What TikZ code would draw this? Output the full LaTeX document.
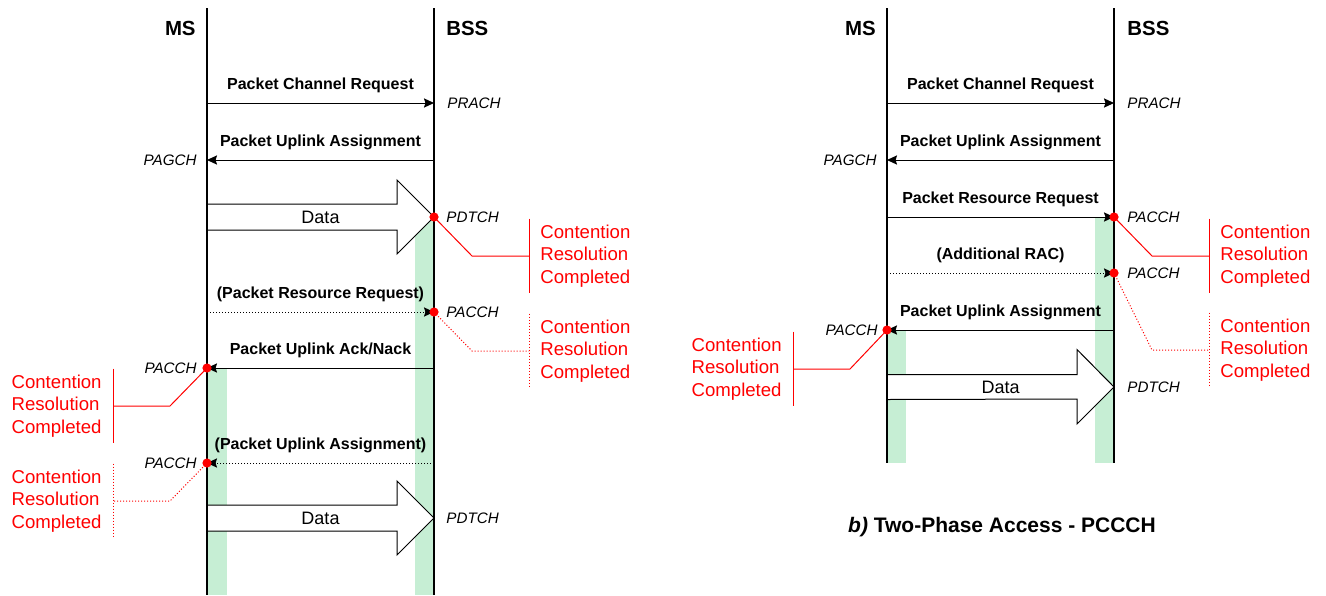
\documentclass[tikz,border=0pt]{standalone}
\usepackage{fontspec}
\setmainfont{Liberation Sans}
\usetikzlibrary{arrows.meta, positioning, calc}
\definecolor{crred}{RGB}{255,0,0}
\definecolor{bandgreen}{RGB}{198,238,212}
\tikzset{
  lifeline/.style={line width=1pt},
  msg/.style={line width=0.5pt, -{Stealth[length=5pt, width=4.6pt, inset=0.7pt]}},
  msgopt/.style={msg, densely dotted},
  msglabel/.style={font=\bfseries\fontsize{8}{9.6}\selectfont, yshift=8.6pt},
  chan/.style={font=\itshape\fontsize{7.6}{9}\selectfont, inner sep=0pt},
  actor/.style={font=\bfseries\fontsize{10.2}{12}\selectfont, inner sep=0pt},
  dataarr/.style={draw, fill=white, line width=0.5pt},
  datalabel/.style={font=\fontsize{9}{10.8}\selectfont},
  band/.style={fill=bandgreen},
  reddot/.style={circle, fill=crred, inner sep=0pt, minimum size=4.6pt},
  crline/.style={draw=crred, line width=0.5pt},
  crlineopt/.style={crline, densely dotted},
  crnote/.style={text=crred, align=left, font=\fontsize{9.3}{11.25}\selectfont, inner xsep=5.5pt, inner ysep=0pt, minimum height=37pt, yshift=-0.5pt}
}

\begin{document}
\begin{tikzpicture}[x=0.5pt, y=-0.5pt]
    \useasboundingbox (0,0) rectangle (1326,595);

    % left chart
    \coordinate (lmT) at (207,8);  \coordinate (lmB) at (207,595);
    \coordinate (lbT) at (434,8);  \coordinate (lbB) at (434,595);
    \coordinate (lmH) at (207,28); \coordinate (lbH) at (434,28);
    \foreach \n/\y in {1/103,2/160,3/217,4/312,5/368,6/463,7/518}{
      \coordinate (lm\n) at (207,\y);
      \coordinate (lb\n) at (434,\y);
    }
    \fill[band] ($(lb3)+(-19,0)$) rectangle (lbB);
    \fill[band] (lm5) rectangle ($(lmB)+(20,0)$);

    \draw[dataarr] (lb3) -- ++(-37,37) -- ++(0,-24) -- ($(lm3)+(0,13)$) -- ($(lm3)+(0,-13)$) -- ++(190,0) -- ++(0,-24) -- cycle;
    \node[datalabel] (lData1) at ($(lm3)!0.5!(lb3)$) {Data};
    \draw[dataarr] (lb7) -- ++(-37,37) -- ++(0,-24) -- ($(lm7)+(0,13)$) -- ($(lm7)+(0,-13)$) -- ++(190,0) -- ++(0,-24) -- cycle;
    \node[datalabel] (lData2) at ($(lm7)!0.5!(lb7)$) {Data};

    \draw[lifeline] (lmT) -- (lmB);
    \draw[lifeline] (lbT) -- (lbB);
    \node[actor, left=5.5pt of lmH] (lMS) {MS};
    \node[actor, right=6pt of lbH] (lBSS) {BSS};

    \draw[msg] (lm1) -- node[msglabel] (lPCR) {Packet Channel Request} (lb1);
    \draw[msg] (lb2) -- node[msglabel] (lPUA) {Packet Uplink Assignment} (lm2);
    \draw[msgopt] (lm4) -- node[msglabel] (lPRR) {(Packet Resource Request)} (lb4);
    \draw[msg] (lb5) -- node[msglabel] (lACK) {Packet Uplink Ack/Nack} (lm5);
    \draw[msgopt] (lb6) -- node[msglabel] (lPUA2) {(Packet Uplink Assignment)} (lm6);

    \node[chan, right=6.5pt of lb1] (lPRACH) {PRACH};
    \node[chan, left=5pt of lm2] (lPAGCH) {PAGCH};
    \node[chan, right=6pt of lb3] (lPDTCH1) {PDTCH};
    \node[chan, right=6pt of lb4] (lPACCH1) {PACCH};
    \node[chan, left=5pt of lm5] (lPACCH2) {PACCH};
    \node[chan, left=5pt of lm6] (lPACCH3) {PACCH};
    \node[chan, right=6pt of lb7] (lPDTCH2) {PDTCH};

    \node[reddot] (lDot1) at (lb3) {};
    \node[reddot] (lDot2) at (lb4) {};
    \node[reddot] (lDot3) at (lm5) {};
    \node[reddot] (lDot4) at (lm6) {};

    \node[crnote, anchor=west] (lCR1) at ($(lb3)+(95,38)$) {Contention\\Resolution\\Completed};
    \draw[crline] (lDot1.center) -- ($(lCR1.west)+(-57,0)$) -- (lCR1.west);
    \draw[crline] (lCR1.north west) -- (lCR1.south west);
    \node[crnote, anchor=west] (lCR2) at ($(lb4)+(95,38)$) {Contention\\Resolution\\Completed};
    \draw[crlineopt] (lDot2.center) -- ($(lCR2.west)+(-57,0)$) -- (lCR2.west);
    \draw[crlineopt] (lCR2.north west) -- (lCR2.south west);
    \node[crnote, anchor=east] (lCR3) at ($(lm5)+(-94,37)$) {Contention\\Resolution\\Completed};
    \draw[crline] (lDot3.center) -- ($(lCR3.east)+(57,0)$) -- (lCR3.east);
    \draw[crline] (lCR3.north east) -- (lCR3.south east);
    \node[crnote, anchor=east] (lCR4) at ($(lm6)+(-94,37)$) {Contention\\Resolution\\Completed};
    \draw[crlineopt] (lDot4.center) -- ($(lCR4.east)+(57,0)$) -- (lCR4.east);
    \draw[crlineopt] (lCR4.north east) -- (lCR4.south east);

    % right chart
    \coordinate (rmT) at (887,8);  \coordinate (rmB) at (887,463);
    \coordinate (rbT) at (1114,8); \coordinate (rbB) at (1114,463);
    \coordinate (rmH) at (887,28); \coordinate (rbH) at (1114,28);
    \foreach \n/\y in {1/103,2/160,3/217,4/273,5/330,6/387}{
      \coordinate (rm\n) at (887,\y);
      \coordinate (rb\n) at (1114,\y);
    }
    \fill[band] ($(rb3)+(-19,0)$) rectangle (rbB);
    \fill[band] (rm5) rectangle ($(rmB)+(19,0)$);

    \draw[dataarr] (rb6) -- ++(-37,37) -- ++(0,-25) -- ($(rm6)+(0,12.5)$) -- ($(rm6)+(0,-12.5)$) -- ++(190,0) -- ++(0,-25) -- cycle;
    \node[datalabel] (rData) at ($(rm6)!0.5!(rb6)$) {Data};

    \draw[lifeline] (rmT) -- (rmB);
    \draw[lifeline] (rbT) -- (rbB);
    \node[actor, left=5.5pt of rmH] (rMS) {MS};
    \node[actor, right=6.5pt of rbH] (rBSS) {BSS};

    \draw[msg] (rm1) -- node[msglabel] (rPCR) {Packet Channel Request} (rb1);
    \draw[msg] (rb2) -- node[msglabel] (rPUA) {Packet Uplink Assignment} (rm2);
    \draw[msg] (rm3) -- node[msglabel] (rPRR) {Packet Resource Request} (rb3);
    \draw[msgopt] (rm4) -- node[msglabel] (rRAC) {(Additional RAC)} (rb4);
    \draw[msg] (rb5) -- node[msglabel] (rPUA2) {Packet Uplink Assignment} (rm5);

    \node[chan, right=6.5pt of rb1] (rPRACH) {PRACH};
    \node[chan, left=5pt of rm2] (rPAGCH) {PAGCH};
    \node[chan, right=6.5pt of rb3] (rPACCH1) {PACCH};
    \node[chan, right=6.5pt of rb4] (rPACCH2) {PACCH};
    \node[chan, left=4.5pt of rm5] (rPACCH3) {PACCH};
    \node[chan, right=6.5pt of rb6] (rPDTCH) {PDTCH};

    \node[reddot] (rDot1) at (rb3) {};
    \node[reddot] (rDot2) at (rb4) {};
    \node[reddot] (rDot3) at (rm5) {};

    \node[crnote, anchor=west] (rCR1) at ($(rb3)+(95,38)$) {Contention\\Resolution\\Completed};
    \draw[crline] (rDot1.center) -- ($(rCR1.west)+(-57,0)$) -- (rCR1.west);
    \draw[crline] (rCR1.north west) -- (rCR1.south west);
    \node[crnote, anchor=west] (rCR2) at ($(rb4)+(95,76)$) {Contention\\Resolution\\Completed};
    \draw[crlineopt] (rDot2.center) -- ($(rCR2.west)+(-57,0)$) -- (rCR2.west);
    \draw[crlineopt] (rCR2.north west) -- (rCR2.south west);
    \node[crnote, anchor=east] (rCR3) at ($(rm5)+(-94,38)$) {Contention\\Resolution\\Completed};
    \draw[crline] (rDot3.center) -- ($(rCR3.east)+(57,0)$) -- (rCR3.east);
    \draw[crline] (rCR3.north east) -- (rCR3.south east);

    \node[font=\bfseries\fontsize{10.5}{12.6}\selectfont] (rCaption) at (1002,527) {\textit{b)} Two-Phase Access - PCCCH};
\end{tikzpicture}
\end{document}
